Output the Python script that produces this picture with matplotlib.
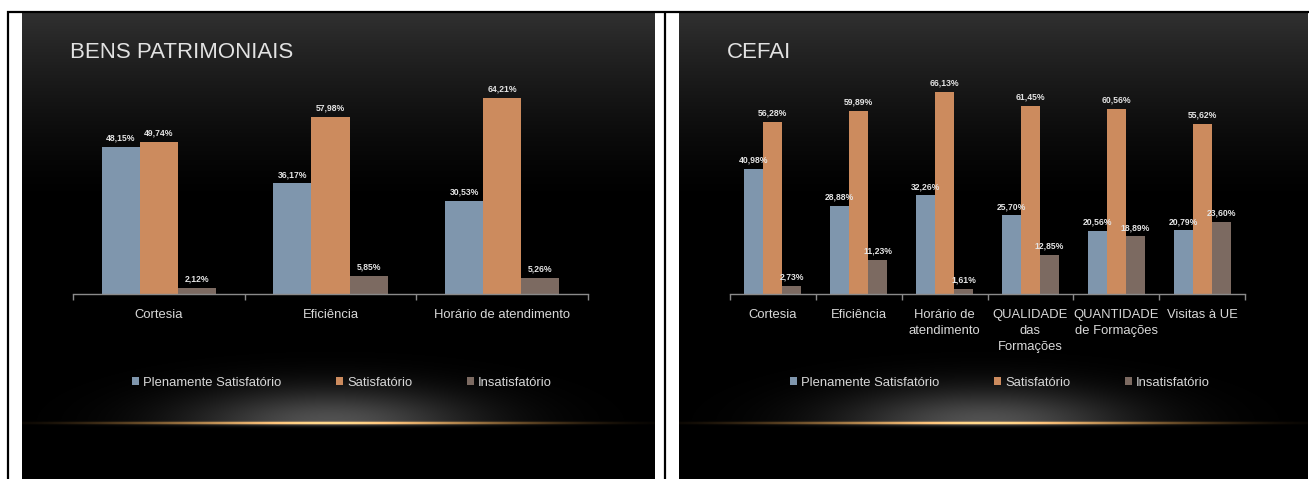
import matplotlib
matplotlib.use('Agg')
import matplotlib.pyplot as plt
import numpy as np
from matplotlib import font_manager as fm
from matplotlib.patches import Patch

# data
bens_title = 'BENS PATRIMONIAIS'
bens_cats = ['Cortesia', 'Eficiência', 'Horário de atendimento']
bens_plen = [48.15, 36.17, 30.53]
bens_sat = [49.74, 57.98, 64.21]
bens_ins = [2.12, 5.85, 5.26]

cefai_title = 'CEFAI'
cefai_cats = ['Cortesia', 'Eficiência', 'Horário de\natendimento',
              'QUALIDADE\ndas\nFormações', 'QUANTIDADE\nde Formações', 'Visitas à UE']
cefai_plen = [40.98, 28.88, 32.26, 25.70, 20.56, 20.79]
cefai_sat = [56.28, 59.89, 66.13, 61.45, 60.56, 55.62]
cefai_ins = [2.73, 11.23, 1.61, 12.85, 18.89, 23.60]

series_names = ['Plenamente Satisfatório', 'Satisfatório', 'Insatisfatório']
colors = ['#7f96ad', '#cc8b5e', '#7c6a61']

# fonts: Arial Narrow look-alike if present
names = {f.name for f in fm.fontManager.ttflist}
if 'Liberation Sans Narrow' in names:
    narrow = 'Liberation Sans Narrow'
    cat_size, val_size = 11, 7.2
else:
    narrow = 'Liberation Sans'
    cat_size, val_size = 9.4, 6.2
plt.rcParams['font.family'] = [narrow, 'DejaVu Sans']

W, H = 1309, 479
fig = plt.figure(figsize=(W / 100, H / 100), dpi=100)
fig.patch.set_facecolor('white')


def fbox(x0, y0, x1, y1):
    # pixel box (top-left origin) -> figure fraction
    return [x0 / W, 1 - y1 / H, (x1 - x0) / W, (y1 - y0) / H]


# background: slides, borders, glow
bg = fig.add_axes([0, 0, 1, 1])
bg.set_xlim(0, W)
bg.set_ylim(H, 0)
bg.axis('off')


def slide_image(x0, x1, y0, y1):
    xs = np.arange(x0, x1) + 0.5
    ys = np.arange(y0, y1) + 0.5
    X, Y = np.meshgrid(xs, ys)
    t = np.clip(1 - (Y - y0) / 190.0, 0, 1)
    base = 0.19 * t ** 1.4
    img = np.dstack([base, base, base])
    cx = x0 + (x1 - x0) / 2 - 8
    ly = 423
    dx = X - cx
    dy = ly - Y
    glow = np.where(dy >= 0,
                    0.32 * np.exp(-(dx / 140.0) ** 2 - (dy / 34.0) ** 2),
                    0.32 * np.exp(-(dx / 140.0) ** 2 - (dy / 3.0) ** 2))
    img += glow[..., None]
    hfade = np.exp(-(dx / 250.0) ** 4) * (0.55 + 0.45 * np.exp(-(dx / 150.0) ** 2))
    line = np.exp(-((Y - ly) / 1.3) ** 2) * hfade
    img += line[..., None] * np.array([0.9, 0.62, 0.27])
    return np.clip(img, 0, 1)


for x0, x1 in [(22, 655), (679, 1308)]:
    bg.imshow(slide_image(x0, x1, 13, H), extent=[x0, x1, H, 13],
              aspect='auto', interpolation='bilinear')

bg.plot([7, W], [11.8, 11.8], color='black', lw=1.6, solid_capstyle='butt')
bg.plot([8, 8], [11, H], color='black', lw=1.6, solid_capstyle='butt')
bg.plot([665, 665], [11, H], color='black', lw=1.6, solid_capstyle='butt')
bg.set_xlim(0, W)
bg.set_ylim(H, 0)


def draw_chart(box, title_xy, title, cats, plen, sat, ins, legend_xy):
    ax = fig.add_axes(fbox(*box))
    ax.set_facecolor('none')
    n = len(cats)
    x = np.arange(n)
    w = 0.222
    for k, vals in enumerate([plen, sat, ins]):
        bars = ax.bar(x + (k - 1) * w, vals, w, color=colors[k], edgecolor='none')
        for b, v in zip(bars, vals):
            ax.annotate(f'{v:.2f}%'.replace('.', ','),
                        (b.get_x() + b.get_width() / 2, v),
                        xytext=(0, 3), textcoords='offset points',
                        ha='center', va='bottom', fontsize=val_size,
                        fontweight='bold', color='#e4e4e4')
    ax.set_xlim(-0.5, n - 0.5)
    ax.set_ylim(0, 70)
    for s in ['top', 'right', 'left']:
        ax.spines[s].set_visible(False)
    ax.spines['bottom'].set_color('#8a8a8a')
    ax.spines['bottom'].set_linewidth(1)
    ax.set_yticks([])
    ax.set_xticks(x)
    ax.set_xticklabels(cats, fontsize=cat_size, color='#d8d8d8', linespacing=1.42)
    ax.set_xticks(np.arange(n + 1) - 0.5, minor=True)
    ax.tick_params(axis='x', which='major', length=0, pad=11)
    ax.tick_params(axis='x', which='minor', length=4, color='#8a8a8a', width=1)

    fig.text(title_xy[0] / W, 1 - title_xy[1] / H, title, fontsize=16,
             family=['Liberation Sans', 'DejaVu Sans'], color='#e2e2e2',
             ha='left', va='center')

    handles = [Patch(facecolor=c, edgecolor='none') for c in colors]
    ax.legend(handles, series_names, loc='center', ncol=3,
              bbox_to_anchor=(legend_xy[0] / W, 1 - legend_xy[1] / H),
              bbox_transform=fig.transFigure, frameon=False,
              fontsize=cat_size, labelcolor='#d8d8d8',
              handlelength=0.55, handleheight=0.55, handletextpad=0.3,
              columnspacing=4.2)
    return ax


draw_chart((73, 80, 588, 294), (70, 53), bens_title, bens_cats,
           bens_plen, bens_sat, bens_ins, (342, 383))
draw_chart((730, 80, 1245, 294), (727, 53), cefai_title, cefai_cats,
           cefai_plen, cefai_sat, cefai_ins, (1000, 383))

plt.savefig('out.png', dpi=100, facecolor=fig.get_facecolor())
